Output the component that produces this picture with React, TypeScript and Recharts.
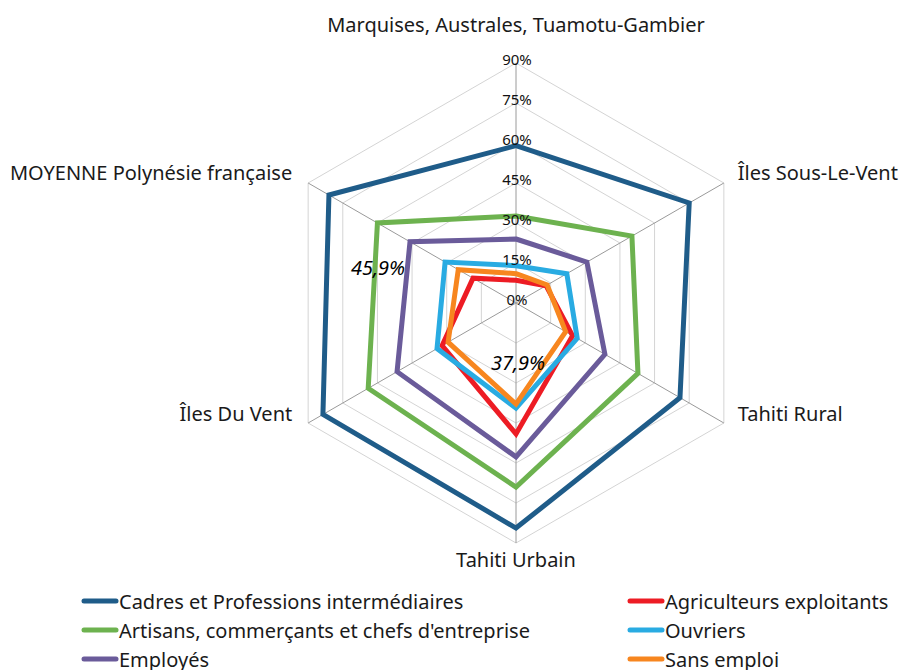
import React from 'react';
import { RadarChart, Radar, PolarGrid, PolarAngleAxis, PolarRadiusAxis, Legend, LabelList } from 'recharts';

const regions = [
  'Marquises, Australes, Tuamotu-Gambier',
  'Îles Sous-Le-Vent',
  'Tahiti Rural',
  'Tahiti Urbain',
  'Îles Du Vent',
  'MOYENNE Polynésie française',
];

const cadres = [59, 75, 71, 84.4, 83.6, 81];
const artisans = [32.6, 50.2, 52.8, 69, 64, 60];
const employes = [24, 30.7, 38.5, 57.7, 51.5, 45.9];
const agriculteurs = [8.5, 13, 24.5, 49.1, 32, 18.6];
const ouvriers = [14, 22, 26.5, 39.4, 34.2, 30.7];
const sansEmploi = [11, 13.5, 21.5, 37.9, 29.4, 25];

const seriesNames = [
  'Cadres et Professions intermédiaires',
  "Artisans, commerçants et chefs d'entreprise",
  'Employés',
  'Agriculteurs exploitants',
  'Ouvriers',
  'Sans emploi',
];
const seriesValues = [cadres, artisans, employes, agriculteurs, ouvriers, sansEmploi];
const seriesColors = ['#1F5C89', '#6DB24F', '#6A5B9A', '#ED1C24', '#29ABE2', '#F7861F'];

const radiusTicks = [0, 15, 30, 45, 60, 75, 90];

// which point of which series carries a value label
const labelledPoints: Record<number, number> = { 2: 5, 5: 3 };

const data = regions.map((region, i) => {
  const row: any = { region };
  seriesValues.forEach((vals, s) => {
    row['s' + s] = vals[i];
  });
  return row;
});

const FONT = "'Noto Sans', sans-serif";
const CX = 516;
const CY = 303;
const R = 240;

const AngleTick = (props: any) => {
  const { x, y, textAnchor, payload } = props;
  let dx = 0;
  let dy = 0;
  if (textAnchor === 'middle') {
    dy = y < CY ? -31 : 8;
  } else {
    dx = textAnchor === 'start' ? 7 : -9;
    dy = y < CY ? -7 : -14;
  }
  return (
    <text x={x + dx} y={y + dy} textAnchor={textAnchor} dominantBaseline="central" fontSize={20} fontFamily={FONT} fill="#1a1a1a">
      {payload.value}
    </text>
  );
};

const RadiusTick = (props: any) => (
  <text x={CX + 1} y={props.y - 4} textAnchor="middle" dominantBaseline="central" fontSize={15} fontFamily={FONT} fill="#111">
    {props.payload.value}%
  </text>
);

const labelOffsets: Record<number, [number, number]> = { 2: [-32, 26], 5: [2, -42] };

const makeLabel = (s: number) => (props: any) => {
  const { x, y, value, index } = props;
  if (labelledPoints[s] !== index) return null;
  const [dx, dy] = labelOffsets[s];
  return (
    <text x={x + dx} y={y + dy} textAnchor="middle" dominantBaseline="central" fontSize={20} fontStyle="italic" fontFamily={FONT} fill="#000">
      {String(value).replace('.', ',')}%
    </text>
  );
};

const renderLegend = (props: any) => {
  const items = [...(props.payload || [])].sort(
    (a: any, b: any) => seriesNames.indexOf(a.value) - seriesNames.indexOf(b.value)
  );
  return (
    <div style={{ position: 'relative', width: 904, height: 82 }}>
      {items.map((entry: any) => {
        const i = seriesNames.indexOf(entry.value);
        const col = Math.floor(i / 3);
        const row = i % 3;
        return (
          <div
            key={entry.value}
            style={{
              position: 'absolute',
              left: col === 0 ? 81 : 627,
              top: row * 29,
              height: 28,
              display: 'flex',
              alignItems: 'center',
              whiteSpace: 'nowrap',
            }}
          >
            <svg width={38} height={8}>
              <line x1={3} y1={4} x2={35} y2={4} stroke={seriesColors[i]} strokeWidth={5} strokeLinecap="round" />
            </svg>
            <span style={{ fontSize: 20, fontFamily: FONT, color: '#1a1a1a' }}>{entry.value}</span>
          </div>
        );
      })}
    </div>
  );
};

export default function App() {
  return (
    <div style={{ position: 'absolute', left: 0, top: 0, width: 904, height: 670, background: '#fff' }}>
      <RadarChart width={904} height={670} data={data} cx={CX} cy={CY} outerRadius={R} margin={{ top: 0, right: 0, bottom: 0, left: 0 }}>
        <PolarGrid gridType="polygon" radialLines={false} stroke="#d4d4d4" strokeWidth={1} />
        <PolarGrid gridType="polygon" polarRadius={[0]} stroke="#9a9a9a" strokeWidth={1} />
        <PolarAngleAxis dataKey="region" tick={<AngleTick />} tickLine={false} axisLine={false} />
        {seriesNames.map((name, s) => (
          <Radar
            key={name}
            name={name}
            dataKey={'s' + s}
            stroke={seriesColors[s]}
            strokeWidth={5}
            fill="none"
            fillOpacity={0}
            dot={false}
            isAnimationActive={false}
          >
            {labelledPoints[s] !== undefined && <LabelList dataKey={'s' + s} content={makeLabel(s)} />}
          </Radar>
        ))}
        <PolarRadiusAxis
          angle={90}
          domain={[0, 90]}
          ticks={radiusTicks as any}
          tickCount={7}
          axisLine={false}
          tickLine={false}
          tick={<RadiusTick />}
        />
        <Legend content={renderLegend} wrapperStyle={{ left: 0, top: 587, width: 904 }} />
      </RadarChart>
    </div>
  );
}
